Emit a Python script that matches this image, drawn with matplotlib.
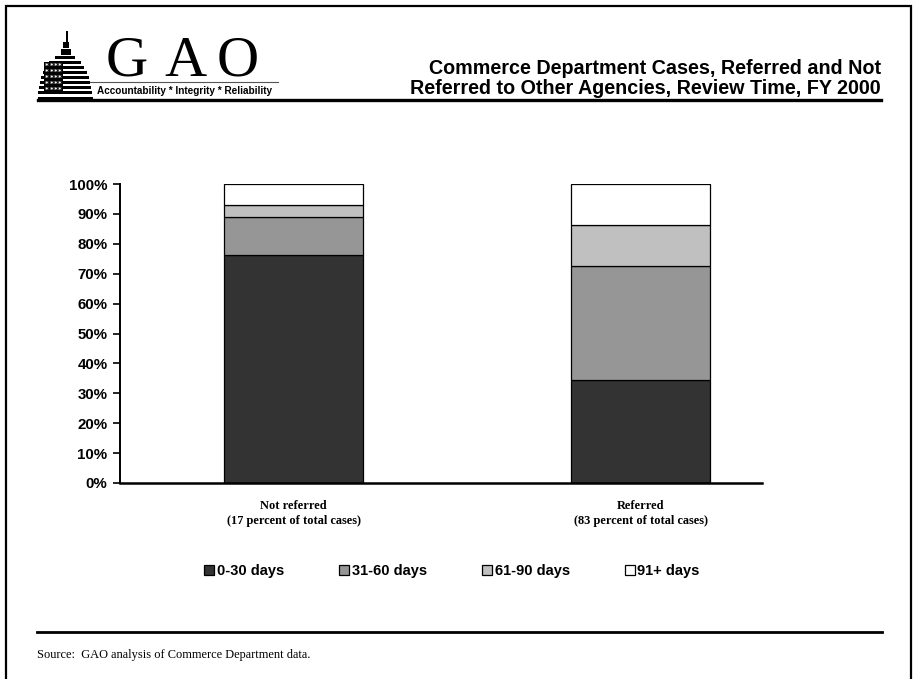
import numpy as np
import matplotlib
matplotlib.use("Agg")
import matplotlib.pyplot as plt
from matplotlib.patches import Rectangle

# data (percent of cases)
categories = ["Not referred\n(17 percent of total cases)",
              "Referred\n(83 percent of total cases)"]
series_names = ["0-30 days", "31-60 days", "61-90 days", "91+ days"]
days_0_30 = [76.3, 34.6]
days_31_60 = [12.8, 38.0]
days_61_90 = [3.9, 13.7]
days_91_plus = [7.0, 13.7]
series_colors = ["#333333", "#969696", "#c0c0c0", "#ffffff"]
yticks = [0, 10, 20, 30, 40, 50, 60, 70, 80, 90, 100]

W, H = 916, 679
fig = plt.figure(figsize=(W / 100, H / 100), dpi=100)
fig.patch.set_facecolor("white")


def fx(px):
    return px / W


def fy(py):
    return 1 - py / H


def box(x0, y0, w, h, **kw):
    # rectangle in pixel units (top-left origin), for page decoration only
    fig.add_artist(Rectangle((fx(x0), fy(y0 + h)), fx(w), h / H,
                             transform=fig.transFigure, linewidth=0, **kw))


# page border
fig.add_artist(Rectangle((fx(6), fy(700)), fx(905), 694 / H, transform=fig.transFigure,
                         fill=False, edgecolor="black", linewidth=1.6))

# --- GAO logo (decoration) ---
# dome: horizontal stripes getting wider towards the base
for i, top in enumerate(range(56, 96, 5)):
    half = 25 * np.sqrt(1 - ((96 - top) / 42.0) ** 2) + 2
    box(65 - half, top, 2 * half, 3, color="black")
box(44, 62, 19, 31, color="black")
for r in range(5):
    for c in range(4):
        fig.text(fx(47 + c * 4.3), fy(65.5 + r * 6), "*", color="white", fontsize=5,
                 ha="center", va="center", fontweight="bold")
box(61, 49, 10, 6, color="black")
box(63, 42, 6, 6, color="black")
box(65.5, 31, 2, 12, color="black")
box(38, 97, 55, 3, color="black")

for letter, xc in zip(["G", "A", "O"], [127, 185, 238]):
    fig.text(fx(xc), fy(76), letter, fontsize=42, family="Liberation Serif",
             ha="center", va="baseline")
fig.add_artist(plt.Line2D([fx(90), fx(278)], [fy(82), fy(82)], color="#555555",
                          linewidth=0.8, transform=fig.transFigure))
fig.text(fx(97), fy(91.5), "Accountability * Integrity * Reliability", fontsize=7.2,
         fontweight="bold", family="Liberation Sans", ha="left", va="center")

# header rule
fig.add_artist(plt.Line2D([fx(38), fx(881)], [fy(100), fy(100)], color="black",
                          linewidth=2.4, transform=fig.transFigure))

# title
fig.text(fx(881), fy(68), "Commerce Department Cases, Referred and Not",
         fontsize=14.2, fontweight="bold", family="Liberation Sans", ha="right", va="center")
fig.text(fx(881), fy(88), "Referred to Other Agencies, Review Time, FY 2000",
         fontsize=14.2, fontweight="bold", family="Liberation Sans", ha="right", va="center")

# --- chart ---
ax = fig.add_axes([fx(120), fy(483), fx(762 - 120), (483 - 184) / H])
x = np.arange(len(categories))
series = [days_0_30, days_31_60, days_61_90, days_91_plus]
bottom = np.zeros(len(categories))
handles = []
for name, vals, col in zip(series_names, series, series_colors):
    b = ax.bar(x, vals, width=0.40, bottom=bottom, color=col, edgecolor="black",
               linewidth=0.9, label=name)
    handles.append(b)
    bottom += np.array(vals)

ax.set_xlim(-0.5, 1.35)
ax.set_ylim(0, 100)
ax.set_yticks(yticks)
ax.set_yticklabels([f"{t}%" for t in yticks], fontsize=10.8, fontweight="bold",
                   family="Liberation Sans")
ax.tick_params(axis="y", length=5, width=1.2, pad=4)
ax.set_xticks(x)
ax.set_xticklabels(categories, fontsize=8.9, fontweight="bold", family="Liberation Serif",
                   linespacing=1.35)
ax.tick_params(axis="x", length=0, pad=12)
for s in ["top", "right"]:
    ax.spines[s].set_visible(False)
ax.spines["left"].set_linewidth(1.4)
ax.spines["bottom"].set_linewidth(1.8)

leg = fig.legend(handles=handles, labels=series_names, loc="center",
                 bbox_to_anchor=(fx(452), fy(571)), ncol=4, frameon=False,
                 handlelength=0.7, handleheight=0.7, handletextpad=0.15,
                 columnspacing=3.8, prop={"family": "Liberation Sans", "weight": "bold",
                                          "size": 10.5})

# footer
fig.add_artist(plt.Line2D([fx(37), fx(882)], [fy(632), fy(632)], color="black",
                          linewidth=2.0, transform=fig.transFigure))
fig.text(fx(37), fy(655), "Source:  GAO analysis of Commerce Department data.",
         fontsize=8.9, family="Liberation Serif", ha="left", va="center")

fig.savefig("out.png", dpi=100)
